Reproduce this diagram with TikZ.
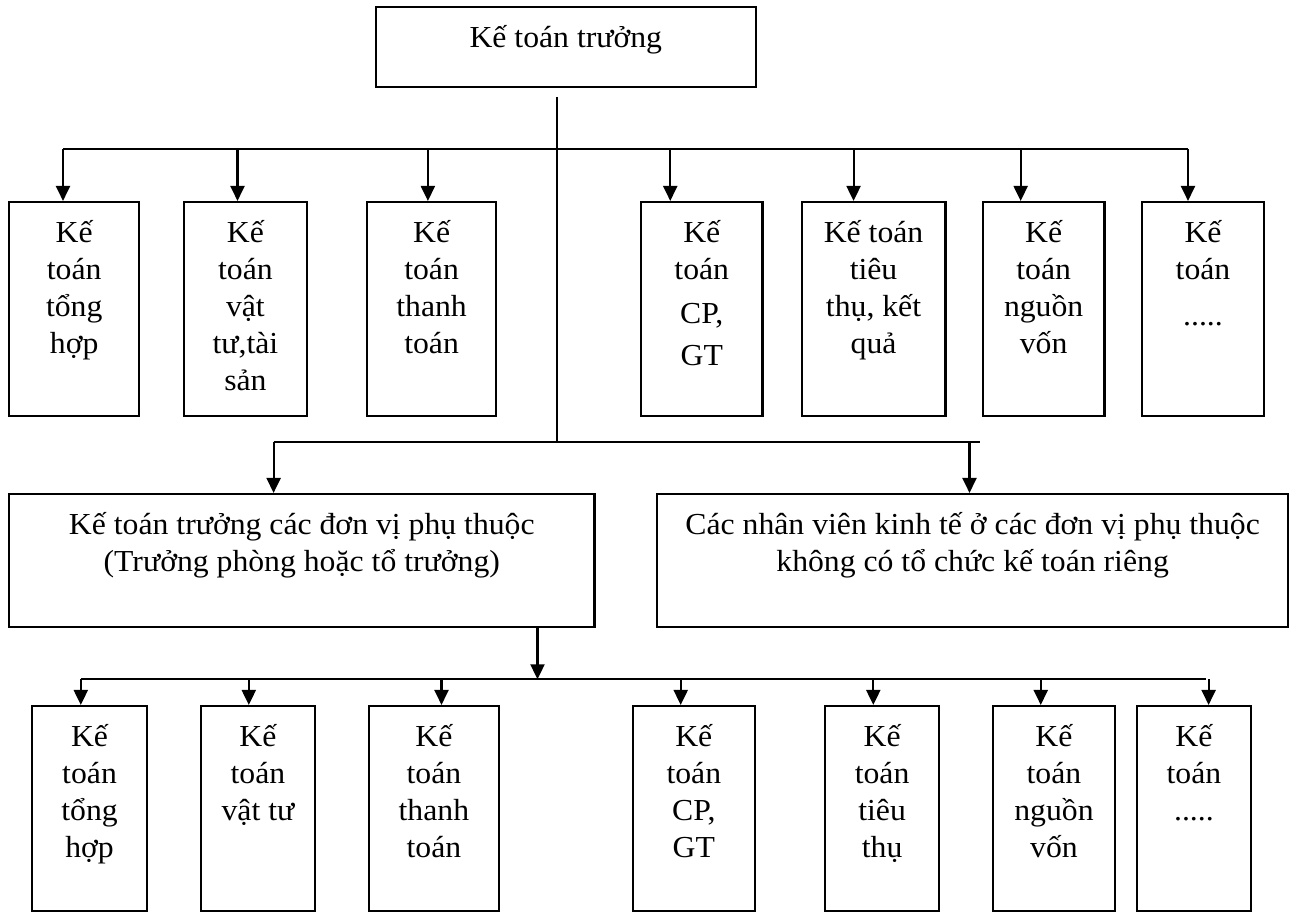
\documentclass[tikz,border=0pt]{standalone}
\usepackage{fontspec}
\setmainfont{Liberation Serif}[FakeStretch=1.04]
\usetikzlibrary{arrows.meta}

% box with its text set from the top: name, centre x, centre y, width, height, lines
\newcommand{\kbox}[6]{%
  \node[kebox] (#1) at (#2,#3)
    {\parbox[c][#5pt][t]{#4pt}{\centering\rule{0pt}{40.5pt}#6}};}

\begin{document}
\begin{tikzpicture}[x=1pt,y=-1pt,
  kebox/.style={draw, line width=2.1pt, inner sep=0pt,
    font=\fontsize{30.5}{37}\selectfont},
  link/.style={line width=2.1pt},
  arr/.style={line width=2.1pt, -{Triangle[length=15pt,width=14pt]}}]
\useasboundingbox (0,0) rectangle (1298,912);

% head of the department
\kbox{head}{565.8}{47}{380.4}{80}{Kế toán trưởng}

% first row of accountants
\kbox{a1}{74.2}{309}{130.2}{214}{Kế\\toán\\tổng\\hợp}
\kbox{a2}{245.4}{309}{122.8}{214}{Kế\\toán\\vật\\tư,tài\\sản}
\kbox{a3}{431.6}{309}{129.4}{214}{Kế\\toán\\thanh\\toán}
\kbox{a4}{701.75}{309}{121.5}{214}{Kế\\toán\\[7pt]CP,\\[5pt]GT}
\kbox{a5}{873.55}{309}{143.9}{214}{Kế toán\\tiêu\\thụ, kết\\quả}
\kbox{a6}{1043.65}{309}{121.7}{214}{Kế\\toán\\nguồn\\vốn}
\kbox{a7}{1203}{309}{122}{214}{Kế\\toán\\[9pt].....}

% dependent units
\kbox{subhead}{301.8}{560.5}{585.4}{133}{Kế toán trưởng các đơn vị phụ thuộc\\(Trưởng phòng hoặc tổ trưởng)}
\kbox{staff}{972.6}{560.5}{631.6}{133}{Các nhân viên kinh tế ở các đơn vị phụ thuộc\\không có tổ chức kế toán riêng}

% second row of accountants
\kbox{c1}{89.55}{808.5}{114.5}{205}{Kế\\toán\\tổng\\hợp}
\kbox{c2}{257.9}{808.5}{114.4}{205}{Kế\\toán\\vật tư}
\kbox{c3}{433.9}{808.5}{129.8}{205}{Kế\\toán\\thanh\\toán}
\kbox{c4}{693.8}{808.5}{121.6}{205}{Kế\\toán\\CP,\\GT}
\kbox{c5}{882.1}{808.5}{114.2}{205}{Kế\\toán\\tiêu\\thụ}
\kbox{c6}{1053.95}{808.5}{122.1}{205}{Kế\\toán\\nguồn\\vốn}
\kbox{c7}{1193.9}{808.5}{114.2}{205}{Kế\\toán\\.....}

% junction points of the bus lines
\coordinate (trunktop) at (557,97);
\coordinate (busA) at (0,149.3);
\coordinate (busB) at (0,442);
\coordinate (busC) at (0,679.3);
\coordinate (busAend) at (1188,149.3);
\coordinate (busBend) at (980,442);
\coordinate (busCend) at (1206,679.3);

% trunk from the head down to the middle bus
\draw[link] (trunktop) -- (trunktop |- busB);

% upper bus and its branches
\draw[link] ([xshift=-11.2]a1.north |- busA) -- (busAend);
\draw[arr] ([xshift=-11.2]a1.north |- busA) -- ([xshift=-11.2]a1.north);
\draw[arr] ([xshift=-7.9]a2.north |- busA) -- ([xshift=-7.9]a2.north);
\draw[arr] ([xshift=-3.7]a3.north |- busA) -- ([xshift=-3.7]a3.north);
\draw[arr] ([xshift=-31.5]a4.north |- busA) -- ([xshift=-31.5]a4.north);
\draw[arr] ([xshift=-20]a5.north |- busA) -- ([xshift=-20]a5.north);
\draw[arr] ([xshift=-23]a6.north |- busA) -- ([xshift=-23]a6.north);
\draw[arr] ([xshift=-15]a7.north |- busA) -- ([xshift=-15]a7.north);

% middle bus
\draw[link] ([xshift=-28.2]subhead.north |- busB) -- (busBend);
\draw[arr] ([xshift=-28.2]subhead.north |- busB) -- ([xshift=-28.2]subhead.north);
\draw[arr] ([xshift=-3.1]staff.north |- busB) -- ([xshift=-3.1]staff.north);

% lower bus fed by the unit chief accountant
\draw[arr] ([xshift=235.7]subhead.south) -- ([xshift=235.7]subhead.south |- busC);
\draw[link] ([xshift=-8.75]c1.north |- busC) -- (busCend);
\draw[arr] ([xshift=-8.75]c1.north |- busC) -- ([xshift=-8.75]c1.north);
\draw[arr] ([xshift=-9.1]c2.north |- busC) -- ([xshift=-9.1]c2.north);
\draw[arr] ([xshift=7.6]c3.north |- busC) -- ([xshift=7.6]c3.north);
\draw[arr] ([xshift=-13.1]c4.north |- busC) -- ([xshift=-13.1]c4.north);
\draw[arr] ([xshift=-8.8]c5.north |- busC) -- ([xshift=-8.8]c5.north);
\draw[arr] ([xshift=-13.2]c6.north |- busC) -- ([xshift=-13.2]c6.north);
\draw[arr] ([xshift=14.7]c7.north |- busC) -- ([xshift=14.7]c7.north);
\end{tikzpicture}
\end{document}
